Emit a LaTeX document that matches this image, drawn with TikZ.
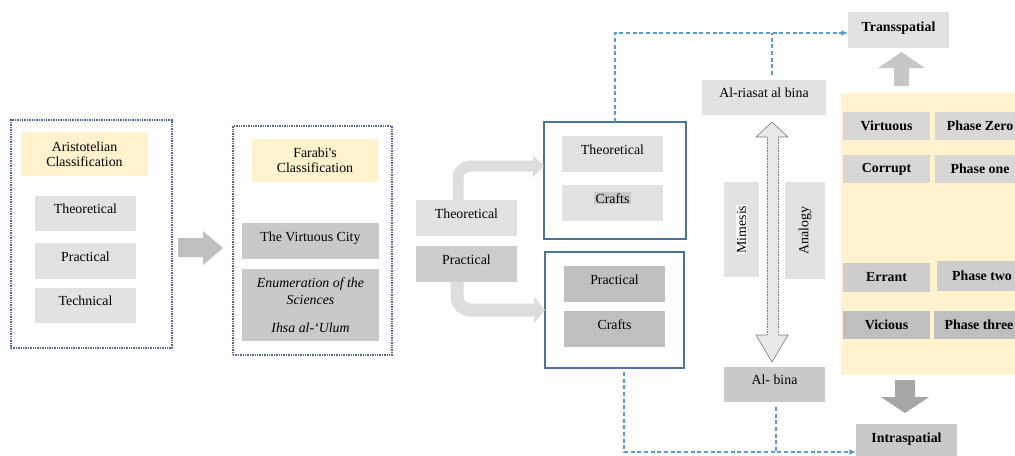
\documentclass[tikz,border=0pt]{standalone}
\usepackage{fontspec}
\setmainfont{Liberation Serif}
\usetikzlibrary{arrows.meta,calc}
\definecolor{grayL}{HTML}{E2E2E2}
\definecolor{grayM}{HTML}{CDCDCD}
\definecolor{grayD}{HTML}{BFBFBF}
\definecolor{grayC}{HTML}{C9C9C9}
\definecolor{paleY}{HTML}{FFF2CC}
\definecolor{dotBlue}{HTML}{50698A}
\definecolor{frameBlue}{HTML}{4D7399}
\definecolor{linkBlue}{HTML}{5B9BD5}
\definecolor{arrL}{HTML}{DDDDDD}
\definecolor{arrM}{HTML}{BFBFBF}
\definecolor{arrD}{HTML}{A6A6A6}
\begin{document}
\begin{tikzpicture}[x=0.75pt,y=-0.75pt,
  every node/.style={inner sep=0pt,outer sep=0pt,font=\fontsize{10.4}{12.8}\selectfont},
  sz/.style 2 args={minimum width=#1*0.75pt,minimum height=#2*0.75pt},
  gbox/.style={fill=#1,draw=none,align=center},
  lift/.style={text height=7pt,text depth=7pt},
  liftb/.style={text height=7pt,text depth=5pt},
  dotframe/.style={draw=dotBlue,line width=1.4pt,dash pattern=on 1.1pt off 0.7pt},
  blueframe/.style={draw=frameBlue,line width=1pt},
  head/.style={font=\fontsize{10.4}{11.5}\selectfont},
  bf/.style={font=\fontsize{10.4}{12.8}\selectfont\bfseries},
  link/.style={draw=linkBlue,line width=0.9pt,dash pattern=on 3pt off 2pt,-{Latex[length=5pt,width=4.5pt]}},
  linkplain/.style={draw=linkBlue,line width=0.9pt,dash pattern=on 3pt off 2pt},
]
\useasboundingbox (0,0) rectangle (1015,455);

% ---- Aristotelian column ----
\node[dotframe,sz={161}{228}] (arist) at (91.5,234) {};
\node[gbox=paleY,head,sz={127}{44}] (aristT) at (84.5,154) {Aristotelian\\Classification};
\node[gbox=grayL,lift,sz={101}{35}] (aTheo) at (85.5,213.5) {Theoretical};
\node[gbox=grayL,lift,sz={101}{36}] (aPrac) at (85.5,261) {Practical};
\node[gbox=grayL,lift,sz={101}{35}] (aTech) at (85.5,305.5) {Technical};

% block arrow between the two classifications
\fill[arrM] (178,238) -- (203,238) -- (203,231) -- (223,248) -- (203,265) -- (203,257) -- (178,257) -- cycle;

% ---- Farabi column ----
\node[dotframe,sz={159}{229}] (farabi) at (312.5,240.5) {};
\node[gbox=paleY,head,sz={126}{43}] (farabiT) at (315,160.5) {Farabi\textquotesingle s\\Classification};
\node[gbox=grayC,lift,sz={137}{36}] (virtCity) at (310.5,241) {The Virtuous City};
\node[gbox=grayC,sz={137}{72}] (enum) at (310.5,305) {\itshape Enumeration of the\\\itshape Sciences\\[8pt]\itshape Ihsa al-‘Ulum};

% ---- split into two groups ----
\node[gbox=grayL,lift,sz={101}{36}] (mTheo) at (466.5,218) {Theoretical};
\node[gbox=grayM,lift,sz={101}{36}] (mPrac) at (466.5,264) {Practical};

\node[blueframe,sz={142}{117}] (tbox) at (615,180.5) {};
\node[gbox=grayL,lift,sz={101}{36}] (tTheo) at (612.5,154) {Theoretical};
\node[gbox=grayL,lift,sz={101}{36}] (tCraft) at (612.5,203) {{\setlength{\fboxsep}{0.8pt}\colorbox{grayC}{Crafts}}};

\node[blueframe,sz={139}{116}] (bbox) at (614.5,310) {};
\node[gbox=grayD,lift,sz={101}{36}] (bPrac) at (614.5,284) {Practical};
\node[gbox=grayD,lift,sz={101}{36}] (bCraft) at (614.5,329) {Crafts};

% bent grey arrows
\draw[arrL,line width=8.25pt,rounded corners=9pt,-{Triangle[length=8.25pt,width=16pt]}]
  ($(mTheo.north)+(-8.5,0)$) |- ($(tbox.west)+(0,-14.5)$);
\draw[arrL,line width=9.75pt,rounded corners=10pt,-{Triangle[length=8.25pt,width=19.5pt]}]
  ($(mPrac.south)+(-9.5,0)$) |- (bbox.west);

% ---- al-riasat / al-bina axis ----
\node[gbox=grayL,lift,sz={124}{35}] (riasat) at (764,97.5) {Al-riasat al bina};
\node[gbox=grayC,lift,sz={101}{35}] (albina) at (774.5,384.5) {Al- bina};
\node[gbox=grayL,rotate=90,sz={95}{35}] (mimesis) at (741.5,229.5) {{\setlength{\fboxsep}{0.8pt}\colorbox{white}{Mimesis}}};
\node[gbox=grayL,rotate=90,sz={97}{40}] (analogy) at (805,230.5) {Analogy};

% double-headed block arrow
\fill[grayL!80!white] (772,122) -- (788,137) -- (778,137) -- (778,335) -- (788,335) -- (772,362)
  -- (756,335) -- (767,335) -- (767,137) -- (756,137) -- cycle;
\draw[gray,line width=0.5pt] (767,137) -- (756,137) -- (772,122) -- (788,137) -- (778,137);
\draw[gray,line width=0.5pt] (767,335) -- (756,335) -- (772,362) -- (788,335) -- (778,335);
\draw[gray,line width=0.6pt,dash pattern=on 0.6pt off 0.6pt] (767,137) -- (767,335) (778,137) -- (778,335);

% ---- phases panel ----
\node[fill=paleY,sz={189}{282}] (panel) at (935.5,234) {};
\node[gbox=grayL!95!black,bf,sz={87}{28}] (virt) at (886.5,126) {Virtuous};
\node[gbox=grayL!95!black,bf,sz={90}{28}] (p0) at (980,126) {Phase Zero};
\node[gbox=grayL!95!black,bf,sz={87}{28}] (corr) at (886.5,169) {Corrupt};
\node[gbox=grayL!95!black,bf,sz={90}{28}] (p1) at (980,169) {Phase one};
\node[gbox=grayM,bf,sz={87}{29}] (err) at (886.5,277.5) {Errant};
\node[gbox=grayM,bf,sz={90}{30}] (p2) at (982,276) {Phase two};
\node[gbox=grayD,bf,sz={87}{28}] (vic) at (886.5,325) {Vicious};
\node[gbox=grayD,bf,sz={90}{28}] (p3) at (979,325) {Phase three};

\node[gbox=grayL,bf,liftb,sz={101}{36}] (trans) at (898.5,30) {Transspatial};
\node[gbox=grayC,bf,liftb,sz={101}{35}] (intra) at (906.5,441.5) {Intraspatial};

% block arrows above and below the panel
\fill[arrL!90!black] (894,86) -- (894,68) -- (878,68) -- (901.5,52) -- (925,68) -- (909,68) -- (909,86) -- cycle;
\fill[arrD] (895,380) -- (915,380) -- (915,397) -- (929,397) -- (905,413) -- (881,397) -- (895,397) -- cycle;

% ---- dashed links ----
\coordinate (tline) at ($(trans.west)+(0,3)$);
\coordinate (rtop) at ($(riasat.north)+(8,-5)$);
\draw[link] (tbox.north) |- (tline);
\draw[linkplain] (rtop) -- (rtop |- tline);

\coordinate (bline) at ($(intra.west)+(0,10.5)$);
\coordinate (bstart) at ($(bbox.south)+(9.5,4)$);
\coordinate (abot) at ($(albina.south)+(1.5,5)$);
\draw[link] (bstart) |- (bline);
\draw[linkplain] (abot) -- (abot |- bline);
\end{tikzpicture}
\end{document}
